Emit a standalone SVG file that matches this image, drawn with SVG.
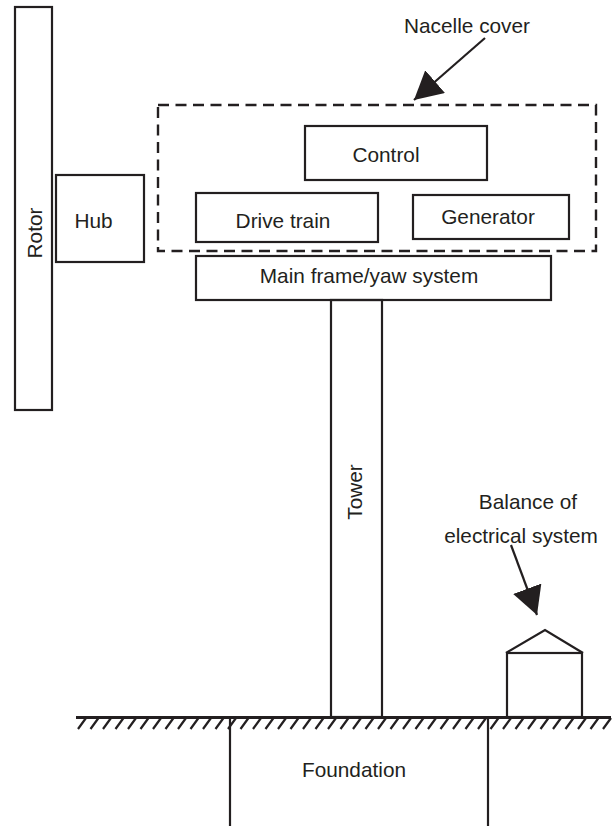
<svg xmlns="http://www.w3.org/2000/svg" width="612" height="826" viewBox="0 0 612 826">
<style>
.box{fill:none;stroke:#231f20;stroke-width:2.2}
.t{font-family:"Liberation Sans",Arial,sans-serif;font-size:20.8px;fill:#231f20;text-anchor:middle}
.ln{stroke:#231f20;stroke-width:2.2;fill:none}
.hatch{stroke:#231f20;stroke-width:2.2}
</style>
<defs>
<marker id="ah" markerUnits="userSpaceOnUse" viewBox="0 0 28 30" refX="28" refY="15" markerWidth="28" markerHeight="30" orient="auto">
<path d="M0,0 L28,15 L0,30 Z" fill="#231f20"/>
</marker>
</defs>
<rect width="612" height="826" fill="#fff"/>
<g id="rotor"><rect class="box" x="15" y="7" width="37" height="403"/><text class="t" transform="translate(42,233) rotate(-90)">Rotor</text></g>
<g id="hub"><rect class="box" x="56" y="175" width="88" height="87"/><text class="t" x="93.5" y="228">Hub</text></g>
<g id="nacelle"><rect x="158" y="105" width="438" height="146" fill="none" stroke="#231f20" stroke-width="2.4" stroke-dasharray="11 6.5"/><text class="t" x="467" y="33">Nacelle cover</text></g>
<g id="control"><rect class="box" x="305" y="126" width="182" height="54"/><text class="t" x="386" y="162">Control</text></g>
<g id="drivetrain"><rect class="box" x="196" y="193" width="182" height="49"/><text class="t" x="283" y="228">Drive train</text></g>
<g id="generator"><rect class="box" x="413" y="195" width="156" height="44"/><text class="t" x="488" y="224">Generator</text></g>
<g id="mainframe"><rect class="box" x="196" y="256" width="355" height="44"/><text class="t" x="369" y="283">Main frame/yaw system</text></g>
<g id="tower"><rect class="box" x="331" y="300" width="51" height="417"/><text class="t" transform="translate(362,492) rotate(-90)">Tower</text></g>
<g id="balance"><rect class="box" x="507" y="653" width="75" height="64"/><polyline class="ln" points="506,653 545,630 583,653"/><text class="t" x="528" y="509">Balance of</text><text class="t" x="521" y="543">electrical system</text></g>
<g id="foundation"><line class="ln" x1="230" y1="717" x2="230" y2="826"/><line class="ln" x1="488" y1="717" x2="488" y2="826"/><text class="t" x="354" y="777">Foundation</text></g>
<g id="ground">
<line x1="76" y1="717.5" x2="611" y2="717.5" stroke="#231f20" stroke-width="3"/>
<path class="hatch" d="M86,718 l-8,11 M98.5,718 l-8,11 M111,718 l-8,11 M123.5,718 l-8,11 M136,718 l-8,11 M148.5,718 l-8,11 M161,718 l-8,11 M173.5,718 l-8,11 M186,718 l-8,11 M198.5,718 l-8,11 M211,718 l-8,11 M223.5,718 l-8,11 M236,718 l-8,11 M248.5,718 l-8,11 M261,718 l-8,11 M273.5,718 l-8,11 M286,718 l-8,11 M298.5,718 l-8,11 M311,718 l-8,11 M323.5,718 l-8,11 M336,718 l-8,11 M348.5,718 l-8,11 M361,718 l-8,11 M373.5,718 l-8,11 M386,718 l-8,11 M398.5,718 l-8,11 M411,718 l-8,11 M423.5,718 l-8,11 M436,718 l-8,11 M448.5,718 l-8,11 M461,718 l-8,11 M473.5,718 l-8,11 M486,718 l-8,11 M498.5,718 l-8,11 M511,718 l-8,11 M523.5,718 l-8,11 M536,718 l-8,11 M548.5,718 l-8,11 M561,718 l-8,11 M573.5,718 l-8,11 M586,718 l-8,11 M598.5,718 l-8,11 M611,718 l-8,11"/>
</g>
<g id="connectors">
<line class="ln" x1="485" y1="38" x2="414" y2="100" marker-end="url(#ah)"/>
<line class="ln" x1="511" y1="545" x2="537" y2="615" marker-end="url(#ah)"/>
</g>
</svg>
